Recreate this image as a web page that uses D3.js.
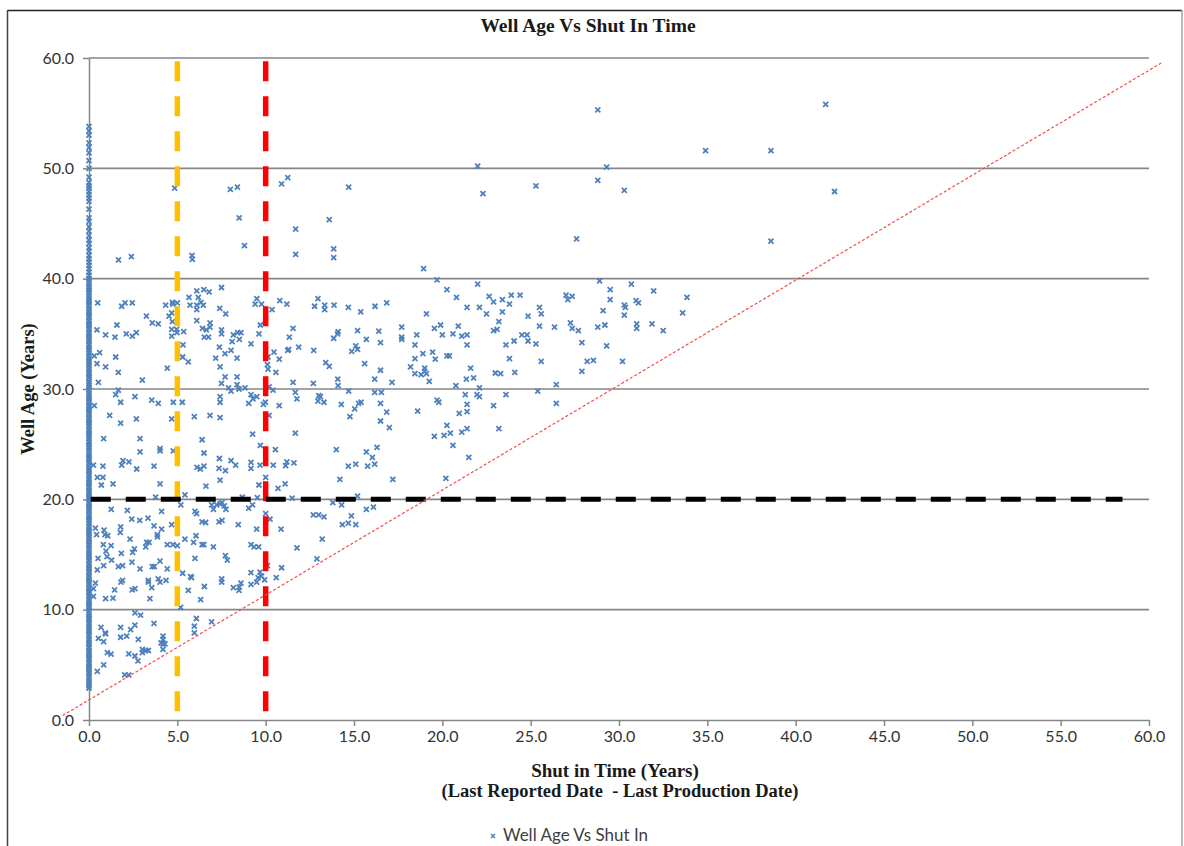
<!DOCTYPE html>
<html lang="en">
<head>
<meta charset="UTF-8">
<title>Well Age Vs Shut In Time</title>
<script src="https://d3js.org/d3.v7.min.js"></script>
<style>
  body { margin: 0; padding: 0; background: #fff; }
  svg { display: block; }
  .axis text { font-family: Lato, "Open Sans", sans-serif; font-size: 16px; fill: #333; }
  .axis path, .axis line { stroke: #868686; stroke-width: 1.5; }
  .grid line { stroke: #868686; stroke-width: 1.6; }
  .label { font-family: "Liberation Serif", "Times New Roman", serif; font-weight: bold; fill: #1a1a1a; }
  .legend { font-family: Lato, "Open Sans", sans-serif; font-size: 17px; fill: #404040; }
</style>
</head>
<body>
<svg id="chart" width="1184" height="846"></svg>
<script>
// axis ticks
const xTickValues = [0, 5, 10, 15, 20, 25, 30, 35, 40, 45, 50, 55, 60];
const yTickValues = [0, 10, 20, 30, 40, 50, 60];

// wells with zero shut-in time (the dense column on the y axis), age in years
const zeroShutInAges = [
  2.9, 3.1, 3.3, 3.5, 3.7, 4.0, 4.2, 4.4, 4.6, 4.8, 5.0, 5.2, 5.5, 5.7, 5.9, 6.1, 6.3, 6.6, 6.8, 7.0, 7.2,
  7.4, 7.7, 7.9, 8.1, 8.3, 8.5, 8.8, 9.0, 9.2, 9.4, 9.6, 9.9, 10.1, 10.3, 10.5, 10.7, 10.9, 11.2, 11.4,
  11.6, 11.8, 12.0, 12.3, 12.5, 12.7, 12.9, 13.1, 13.4, 13.6, 13.8, 14.0, 14.2, 14.5, 14.7, 14.9, 15.1,
  15.3, 15.6, 15.8, 16.0, 16.2, 16.4, 16.7, 16.9, 17.1, 17.3, 17.5, 17.8, 18.0, 18.2, 18.4, 18.6, 18.9,
  19.1, 19.3, 19.5, 19.7, 20.0, 20.2, 20.4, 20.6, 20.8, 21.1, 21.3, 21.5, 21.7, 21.9, 22.2, 22.4, 22.6,
  22.8, 23.0, 23.3, 23.5, 23.7, 23.9, 24.1, 24.4, 24.6, 24.8, 25.0, 25.2, 25.5, 25.7, 25.9, 26.1, 26.3,
  26.6, 26.8, 27.0, 27.2, 27.4, 27.7, 27.9, 28.1, 28.3, 28.5, 28.8, 29.0, 29.2, 29.4, 29.6, 29.9, 30.1,
  30.3, 30.5, 30.7, 31.0, 31.2, 31.4, 31.6, 31.8, 32.1, 32.3, 32.5, 32.7, 32.9, 33.2, 33.4, 33.6, 33.8,
  34.0, 34.3, 34.5, 34.7, 34.9, 35.1, 35.4, 35.6, 35.8, 36.0, 36.2, 36.5, 36.7, 36.9, 37.1, 37.3, 37.6,
  37.8, 38.0, 38.2, 38.4, 38.7, 38.9, 39.1, 39.3, 39.5, 39.8, 40.0, 40.3, 40.6, 40.9, 41.2, 41.5, 41.8,
  42.1, 42.5, 42.8, 43.2, 43.5, 43.9, 44.3, 44.7, 45.2, 45.5, 46.3, 47.0, 47.3, 47.6, 47.9, 48.2, 48.4,
  48.7, 49.2, 50.0, 50.7, 51.4, 51.9, 52.3, 53.0, 53.4, 53.8
];

// [shut in time, well age]
const wellPoints = [
  [28.8,55.3],[41.7,55.8],[34.9,51.6],[38.6,51.6],[22.0,50.2],[29.3,50.1],[28.8,48.9],[25.3,48.4],[22.3,47.7],
  [30.3,48.0],[42.2,47.9],[38.6,43.4],[27.6,43.6],[4.85,48.2],[8.0,48.1],[8.4,48.3],[10.9,48.6],[11.25,49.15],
  [14.7,48.3],[8.5,45.5],[13.6,45.35],[11.7,44.5],[8.8,43.0],[13.85,42.7],[13.85,41.9],[11.7,42.2],[5.83,42.1],
  [5.85,41.75],[2.4,42.0],[1.67,41.7],
  [7.5,39.2],[6.1,38.9],[6.5,39.0],[6.8,38.8],[5.66,38.3],[6.19,38.3],[0.49,37.8],[1.85,37.5],[2.04,37.8],
  [2.45,37.8],[4.34,37.6],[4.72,37.85],[4.75,37.7],[5.0,37.8],[5.72,37.6],[6.1,37.6],[6.34,37.85],[6.47,37.6],
  [6.1,37.2],[7.4,37.3],[9.5,38.2],[9.4,37.7],[9.77,37.7],[10.8,38.0],[11.2,37.7],[10.36,37.2],[12.96,38.2],
  [12.77,37.5],[13.34,37.6],[13.34,37.2],[13.87,37.6],[14.68,37.4],[15.38,37.0],[16.19,37.5],[16.85,37.8],
  [3.25,36.6],[3.58,36.0],[3.92,35.9],[4.53,36.6],[4.68,36.9],[4.72,36.1],[4.96,35.4],[5.36,35.2],[4.68,35.4],
  [4.98,35.1],[4.68,34.8],[6.1,36.2],[6.42,35.5],[6.64,35.35],[6.85,36.0],[6.85,35.6],[6.53,34.7],[6.77,34.7],
  [7.74,36.8],[7.5,35.35],[7.5,35.0],[8.42,35.1],[8.6,35.1],[8.51,34.5],[8.17,34.9],[8.1,34.3],[9.17,34.1],
  [9.62,35.0],[9.7,35.8],[11.55,35.5],[11.34,34.7],[11.87,33.8],
  [0.45,35.35],[0.94,34.9],[1.58,35.8],[1.47,34.7],[2.11,35.0],[2.45,34.8],[2.68,35.1],[0.6,33.3],[0.3,33.0],
  [1.51,32.9],[0.45,32.3],[0.94,32.0],[1.66,31.5],[0.53,30.6],[3.02,30.8],[4.43,31.9],[5.32,34.0],[5.3,32.9],
  [5.62,32.45],[7.38,33.8],[7.17,32.8],[7.7,33.2],[8.04,33.5],[8.38,32.8],[7.42,32.0],[7.7,31.1],[8.38,31.1],
  [7.5,30.5],[8.38,30.4],[7.9,30.1],[8.04,29.8],[8.49,30.0],[8.83,30.1],
  [10.13,32.9],[10.1,32.2],[10.13,31.8],[10.47,33.35],[10.77,32.7],[11.25,33.5],[11.3,33.6],[10.58,31.5],
  [10.19,30.2],[10.42,29.9],[11.55,30.6],[12.7,30.5],[11.68,29.7],[11.77,29.1],[9.17,29.5],[9.5,29.3],
  [9.28,29.1],[9.04,28.7],[9.87,28.6],[9.98,28.8],[10.77,28.5],[10.19,27.6],[9.26,25.9],[9.7,24.9],
  [10.55,24.5],[11.68,26.0],
  [12.72,33.5],[13.4,32.4],[13.6,32.05],[14.07,35.0],[14.1,35.2],[13.85,34.6],[15.2,35.3],[15.7,34.5],
  [15.1,33.9],[15.2,33.6],[14.87,33.4],[16.4,35.25],[16.5,34.2],[15.6,32.3],[14.08,30.9],[14.1,30.3],
  [16.17,30.9],[16.5,31.7],[17.15,30.6],[14.7,29.8],[16.17,29.7],[16.55,29.7],[13.0,29.4],[13.1,29.3],
  [12.96,28.9],[13.3,28.8],[14.28,28.6],[15.26,28.7],[15.4,28.8],[15.04,28.2],[16.5,28.7],[16.85,27.9],
  [14.77,27.5],[16.5,27.1],[17.0,26.5],
  [1.79,28.8],[2.6,29.3],[1.51,29.5],[1.66,29.9],[0.3,28.5],[3.55,29.0],[3.92,28.7],[4.77,28.8],[5.28,28.8],
  [7.42,29.3],[7.42,28.8],[1.17,27.6],[1.79,26.9],[2.68,27.3],[4.68,27.3],[5.96,27.5],[6.85,27.6],[7.42,27.4],
  [0.83,25.5],[2.89,25.5],[6.4,25.4],[2.89,24.3],[4.02,24.6],[4.02,24.4],[4.77,24.4],[6.51,24.2],[7.38,23.7],
  [8.04,23.5],[8.3,23.1],[0.25,23.1],[0.79,23.0],[1.85,23.1],[1.92,23.5],[2.26,23.4],[2.7,22.75],[3.68,23.0],
  [6.11,22.9],[6.3,22.75],[6.51,23.0],[7.36,22.8],[7.72,22.6],[9.17,23.35],[9.17,22.8],[9.68,23.1],
  [10.43,23.1],[11.13,23.05],[11.2,23.4],[11.6,23.3],[14.0,24.5],[15.1,23.2],[14.68,23.0],[15.7,24.3],
  [16.3,24.7],[16.04,23.8],[15.77,23.0],[16.17,23.2],[0.47,22.0],[0.79,22.0],[0.7,21.3],[1.36,21.4],
  [4.02,21.4],[6.62,21.2],[7.42,21.75],[9.62,21.3],[10.0,22.0],[10.7,21.0],[11.1,21.4],[14.2,21.8],
  [17.2,21.8],[3.77,20.2],[9.53,20.15],[11.5,20.1],[15.2,20.3],
  [18.94,40.9],[19.7,39.9],[20.26,39.0],[22.0,39.5],[20.8,38.3],[19.1,36.8],[17.7,35.6],[17.7,34.7],
  [17.7,34.5],[18.55,34.9],[18.45,34.0],[18.45,32.75],[18.9,33.2],[19.45,33.35],[19.55,35.5],[19.9,35.8],
  [20.0,34.9],[20.6,35.0],[20.9,35.7],[21.1,34.8],[21.4,37.4],[21.4,34.9],[21.4,34.0],[19.6,32.7],
  [20.26,33.0],[20.4,33.0],[18.2,32.0],[18.45,31.4],[18.8,31.3],[19.0,31.9],[19.0,31.6],[19.1,31.4],
  [19.26,30.7],[21.6,31.9],[21.36,30.9],[21.77,31.0],[20.77,30.3],[22.1,30.1],[21.3,29.5],[21.96,29.5],
  [22.1,29.3],[19.7,29.0],[19.8,28.8],[18.6,28.0],[21.4,28.6],[21.4,27.95],[20.96,27.8],[20.26,26.7],
  [20.45,26.0],[20.1,25.8],[19.55,25.7],[21.1,26.1],[21.4,26.4],[20.6,24.9],[21.5,23.8],[20.2,21.9],
  [22.65,38.4],[22.9,37.9],[22.1,37.4],[22.5,36.8],[23.2,36.1],[22.9,35.3],[23.1,35.4],[23.4,38.1],
  [23.9,38.5],[23.8,37.7],[24.4,38.5],[23.4,37.0],[23.6,34.0],[24.06,34.35],[24.5,34.9],[24.8,34.9],
  [24.85,34.35],[25.3,34.1],[24.85,36.6],[25.5,35.7],[25.5,37.4],[25.6,36.8],[23.8,32.75],[23.0,31.45],
  [23.3,31.4],[24.1,31.5],[25.6,32.5],[23.6,29.5],[22.9,28.5],[23.2,26.4],[25.4,29.8],[26.45,30.4],
  [26.45,28.7],[26.35,35.6],[27.0,38.5],[27.1,38.1],[27.35,38.4],[27.25,36.0],[27.35,35.5],[27.7,35.3],
  [27.9,34.2],[27.9,31.6],[28.2,32.5],[28.55,32.6],[28.9,39.8],[29.5,39.0],[29.5,38.1],[29.1,37.1],
  [28.8,35.6],[29.2,35.8],[29.3,33.9],[30.2,32.5],[30.7,39.5],[30.3,37.6],[30.36,37.4],[30.3,36.7],
  [30.97,38.0],[31.1,37.8],[31.0,35.9],[31.0,35.5],[31.96,38.9],[31.87,35.9],[32.5,35.3],[33.85,38.3],
  [33.6,36.9],
  [5.43,20.4],[8.68,20.2],[1.26,19.1],[2.17,19.0],[4.11,18.9],[5.2,19.5],[6.0,18.9],[6.09,18.7],[6.94,19.5],
  [7.04,19.1],[7.23,19.5],[7.42,19.6],[7.53,19.7],[7.66,19.4],[7.75,19.1],[9.04,19.2],[9.26,19.5],[13.8,19.7],
  [14.3,19.5],[15.7,19.1],[16.1,19.3],[12.7,18.6],[13.0,18.6],[13.3,18.4],[14.34,17.7],[14.68,17.85],
  [15.1,17.7],[14.85,18.5],[10.0,18.7],[10.25,18.2],[9.49,17.3],[10.87,17.3],[8.45,17.7],[7.36,17.95],
  [7.53,18.1],[6.4,17.95],[6.6,17.9],[5.43,16.4],[6.06,16.7],[5.92,16.1],[6.4,15.9],[6.5,15.9],[7.04,15.7],
  [9.17,15.9],[9.34,15.7],[9.6,15.7],[11.77,15.6],[13.2,16.4],[6.0,14.65],[7.72,14.9],[7.83,14.5],[5.3,13.3],
  [5.75,13.0],[5.8,12.9],[9.17,13.35],[9.68,13.4],[9.57,12.9],[9.77,13.05],[9.94,12.7],[10.1,14.0],[10.9,13.8],
  [10.6,12.9],[9.49,12.5],[9.17,12.3],[12.9,14.6],[7.51,12.8],[7.51,12.5],[6.53,12.1],[5.62,11.75],[6.32,10.9],
  [8.17,12.0],[8.5,12.05],[8.6,12.4],[8.49,11.75],[0.47,13.6],[0.36,12.4],[0.25,11.9],[0.25,11.2],[0.94,11.0],
  [1.36,11.05],[1.45,11.8],[1.81,12.5],[1.9,12.65],[2.45,11.8],[2.6,11.9],[2.89,13.7],[3.36,12.65],[3.36,12.5],
  [3.55,12.0],[3.92,12.8],[4.02,12.5],[4.36,12.65],[3.58,13.9],[3.7,13.9],[4.02,14.4],[4.43,13.7],[3.45,11.0],
  [1.66,13.9],[1.9,14.0],[0.51,14.65],[0.83,14.0],[1.02,14.8],[1.28,14.5],[1.83,15.1],[2.47,15.2],[2.57,15.5],
  [0.81,15.9],[1.25,15.8],[0.96,15.3],[0.43,16.8],[0.85,17.2],[0.9,16.8],[1.06,16.7],[1.79,17.5],[1.77,17.0],
  [2.32,16.4],[2.42,18.2],[2.87,18.1],[3.34,18.3],[3.68,17.6],[3.87,16.8],[3.87,16.6],[4.11,17.3],[4.68,17.7],
  [3.26,16.1],[3.4,16.1],[3.21,15.7],[4.43,15.9],[4.75,15.9],[5.0,15.8],[2.43,14.3],[0.36,17.4],
  [0.68,8.4],[0.92,7.9],[0.94,7.8],[0.53,7.4],[0.83,7.1],[1.04,6.1],[1.25,5.98],[0.83,5.0],[0.47,4.4],
  [1.79,8.4],[1.79,7.5],[2.13,7.6],[2.36,8.2],[2.6,8.6],[2.6,9.7],[2.92,9.5],[3.68,8.75],[2.79,7.3],[2.25,6.0],
  [2.6,5.8],[2.77,5.35],[3.02,6.4],[3.02,6.1],[3.21,6.3],[3.36,6.3],[2.02,4.1],[2.25,4.1],[4.19,7.6],[4.19,7.3],
  [4.19,6.9],[4.3,6.9],[4.19,6.4],[4.08,7.0],[5.96,8.5],[6.08,9.2],[5.96,7.9],[6.94,8.9],[5.19,10.2]
];

// reference lines
const shutInLimits = [5, 10];          // vertical dashed lines, years
const shutInLimitAges = [59.7, 0];     // their extent on the age axis
const ageLimit = 20;                   // horizontal dashed line, years
const ageLimitShutIn = [0.1, 58.5];    // its extent on the shut-in axis
const trendLine = [[-1.5, 0.4], [60.7, 59.55]]; // linear trendline end points

const svg = d3.select("#chart");

const x = d3.scaleLinear().domain([0, 60]).range([89, 1149]);
const y = d3.scaleLinear().domain([0, 60]).range([720, 58]);

// frame
svg.append("line").attr("x1", 7.5).attr("x2", 1182).attr("y1", 10.5).attr("y2", 10.5)
    .attr("stroke", "#222").attr("stroke-width", 1.5);
svg.append("line").attr("x1", 7.5).attr("x2", 7.5).attr("y1", 10).attr("y2", 846)
    .attr("stroke", "#444").attr("stroke-width", 1.5);
svg.append("line").attr("x1", 1182).attr("x2", 1182).attr("y1", 10).attr("y2", 846)
    .attr("stroke", "#a0a0a0").attr("stroke-width", 1.5);

// gridlines
svg.append("g").attr("class", "grid")
    .selectAll("line")
    .data(yTickValues.filter(d => d > 0))
    .enter().append("line")
    .attr("x1", x(0)).attr("x2", x(60))
    .attr("y1", d => y(d)).attr("y2", d => y(d));

// axes
svg.append("g").attr("class", "axis")
    .attr("transform", `translate(${x(0)},0)`)
    .call(d3.axisLeft(y).tickValues(yTickValues).tickFormat(d3.format(".1f"))
        .tickSizeInner(6).tickSizeOuter(0).tickPadding(9));

svg.append("g").attr("class", "axis")
    .attr("transform", `translate(0,${y(0)})`)
    .call(d3.axisBottom(x).tickValues(xTickValues).tickFormat(d3.format(".1f"))
        .tickSizeInner(6).tickSizeOuter(0).tickPadding(5));

// scatter markers
const markerPath = "M-2.5,-2.5L2.5,2.5M-2.5,2.5L2.5,-2.5";
const allPoints = zeroShutInAges.map(a => [0, a]).concat(wellPoints);

svg.append("g")
    .selectAll("path")
    .data(allPoints)
    .enter().append("path")
    .attr("d", markerPath)
    .attr("transform", d => `translate(${x(d[0])},${y(d[1])})`)
    .attr("fill", "none")
    .attr("stroke", "#4F81BD")
    .attr("stroke-width", 1.8);

// vertical dashed limits
const limitColors = ["#FFC000", "#FF0000"];
svg.append("g")
    .selectAll("line")
    .data(shutInLimits)
    .enter().append("line")
    .attr("x1", d => x(d)).attr("x2", d => x(d))
    .attr("y1", y(shutInLimitAges[0])).attr("y2", y(shutInLimitAges[1]))
    .attr("stroke", (d, i) => limitColors[i])
    .attr("stroke-width", 5.5)
    .attr("stroke-dasharray", "20,15");

// horizontal dashed age limit
svg.append("line")
    .attr("x1", x(ageLimitShutIn[0])).attr("x2", x(ageLimitShutIn[1]))
    .attr("y1", y(ageLimit)).attr("y2", y(ageLimit))
    .attr("stroke", "#000")
    .attr("stroke-width", 5)
    .attr("stroke-dasharray", "20,15");

// trendline
svg.append("line")
    .attr("x1", x(trendLine[0][0])).attr("y1", y(trendLine[0][1]))
    .attr("x2", x(trendLine[1][0])).attr("y2", y(trendLine[1][1]))
    .attr("stroke", "#F0504A")
    .attr("stroke-width", 1.2)
    .attr("stroke-dasharray", "3,2");

// titles
svg.append("text").attr("class", "label")
    .attr("x", 588).attr("y", 32)
    .attr("text-anchor", "middle").style("font-size", "19.5px")
    .text("Well Age Vs Shut In Time");

svg.append("text").attr("class", "label")
    .attr("transform", "translate(34,389) rotate(-90)")
    .attr("text-anchor", "middle").style("font-size", "18.5px")
    .text("Well Age (Years)");

svg.append("text").attr("class", "label")
    .attr("x", 615).attr("y", 777)
    .attr("text-anchor", "middle").style("font-size", "19px")
    .text("Shut in Time (Years)");

svg.append("text").attr("class", "label")
    .attr("x", 620).attr("y", 797)
    .attr("text-anchor", "middle").style("font-size", "18.5px")
    .attr("xml:space", "preserve")
    .text("(Last Reported Date  - Last Production Date)");

// legend
svg.append("path")
    .attr("d", "M-2,-2L2,2M-2,2L2,-2")
    .attr("transform", "translate(493,836)")
    .attr("fill", "none").attr("stroke", "#4F81BD").attr("stroke-width", 1.5);
svg.append("text").attr("class", "legend")
    .attr("x", 503).attr("y", 841)
    .text("Well Age Vs Shut In");
</script>
</body>
</html>
